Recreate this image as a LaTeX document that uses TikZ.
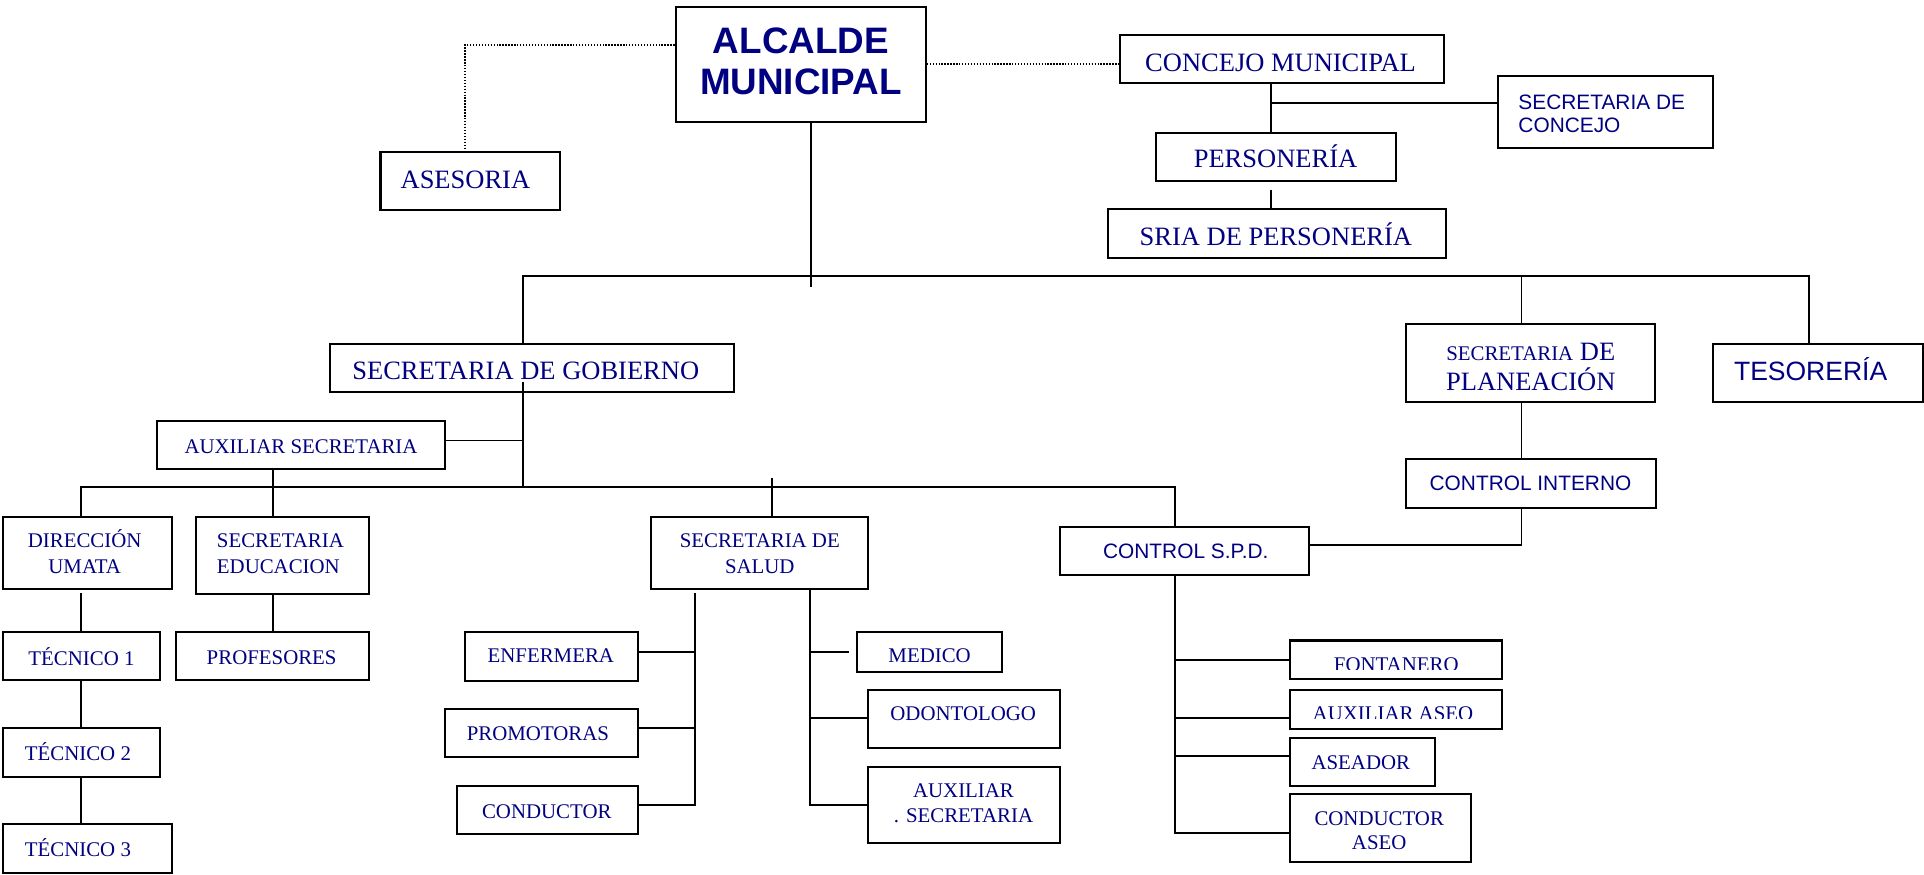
\documentclass[tikz,border=0pt]{standalone}
\usepackage{fontspec}
\setmainfont{Liberation Serif}
\newfontfamily\arialf{Liberation Sans}
\usetikzlibrary{fit}
\definecolor{navy}{RGB}{0,0,128}
\newcommand\mlc[1]{\begin{tabular}[t]{@{}c@{}}#1\end{tabular}}
\newcommand\mll[1]{\begin{tabular}[t]{@{}l@{}}#1\end{tabular}}
\tikzset{
 box/.style={draw, line width=1.7pt, inner sep=0pt},
 txt/.style={inner sep=0pt, text=navy, anchor=base, font=\fontsize{17}{21}\selectfont},
 big/.style={font=\fontsize{21.6}{25}\selectfont},
 ar/.style={font=\arialf\fontsize{17}{19}\selectfont},
 ln/.style={line width=1.45pt},
 dotl/.style={line width=1.1pt, dash pattern=on 1.1pt off 1.3pt},
}
\begin{document}
\begin{tikzpicture}[x=1pt,y=-1pt]
\fill[white] (0,0) rectangle (1568,713);
\useasboundingbox (0,0) rectangle (1568,713);

% boxes
\node[box, fit={(550.6,6) (754.4,99.7)}] (alc) {};
\node[box, fit={(310.1,123.6) (456.7,171.2)}] (ase) {};
\node[box, fit={(912.5,28.8) (1176.9,67.9)}] (con) {};
\node[box, fit={(1220.7,61.7) (1395.9,120.3)}] (scon) {};
\node[box, fit={(942,108.1) (1137.5,147.5)}] (per) {};
\node[box, fit={(903.2,170.3) (1178.1,210)}] (sria) {};
\node[box, fit={(269,280.4) (598,319.7)}] (gob) {};
\node[box, fit={(1145.5,264.3) (1349.1,327.4)}] (plan) {};
\node[box, fit={(1395.8,280.6) (1567.1,327.4)}] (tes) {};
\node[box, fit={(128.1,343.1) (363,382.5)}] (aux) {};
\node[box, fit={(1145.5,374.4) (1349.3,413.8)}] (ci) {};
\node[box, fit={(2.7,421.6) (140.2,480)}] (dir) {};
\node[box, fit={(159.5,421.6) (300.5,484.1)}] (edu) {};
\node[box, fit={(530.9,421.1) (707.3,480.3)}] (sal) {};
\node[box, fit={(863.5,429.2) (1067,468.6)}] (spd) {};
\node[box, fit={(2.7,515.3) (130.4,554.5)}] (t1) {};
\node[box, fit={(2.7,593.6) (130.4,633)}] (t2) {};
\node[box, fit={(2.7,671.8) (140.2,711.8)}] (t3) {};
\node[box, fit={(143.7,515.3) (300.5,554.2)}] (prof) {};
\node[box, fit={(378.6,515.3) (519.9,554.7)}] (enf) {};
\node[box, fit={(362.6,578.1) (519.9,617.2)}] (pro) {};
\node[box, fit={(372.2,640.6) (519.9,679.7)}] (cond) {};
\node[box, fit={(698.5,515.3) (816.8,547.4)}] (med) {};
\node[box, fit={(707.1,562.4) (864.1,609.3)}] (odo) {};
\node[box, fit={(707.1,624.8) (864.1,687.3)}] (axs) {};
\node[box, fit={(1051.3,522) (1224,553.5)}] (fon) {};
\node[box, fit={(1051.3,562.4) (1224,594.2)}] (axa) {};
\node[box, fit={(1051.3,601.2) (1169.3,640.6)}] (asd) {};
\node[box, fit={(1051.3,647.4) (1198.6,702.3)}] (cas) {};

% texts
\node[txt, font=\arialf\bfseries\fontsize{30}{33.9}\selectfont] (alc-t) at (652.7,43.5) {\mlc{ALCALDE\\MUNICIPAL}};
\node[txt,big] (ase-t) at (379.3,153.5) {ASESORIA};
\node[txt,big] (con-t) at (1043.6,58.4) {CONCEJO MUNICIPAL};
\node[txt, anchor=base west, font=\arialf\fontsize{17}{18}\selectfont] (scon-t) at (1237.3,89.6) {\mll{SECRETARIA DE\\CONCEJO}};
\node[txt,big] (per-t) at (1039.5,136.4) {PERSONERÍA};
\node[txt,big] (sria-t) at (1039.8,199.7) {SRIA DE PERSONERÍA};
\node[txt,big] (gob-t) at (428.5,308.9) {SECRETARIA DE GOBIERNO};
\node[txt,font=\fontsize{21.6}{25}\selectfont] (plan-t) at (1247.5,293.4) {\mlc{{\fontsize{17}{25}\selectfont SECRETARIA} DE\\\smash{PLANEACIÓN}}};
\node[txt, font=\arialf\fontsize{21.6}{25}\selectfont] (tes-t) at (1475.6,310.2) {TESORERÍA};
\node[txt] (aux-t) at (245.3,369.5) {AUXILIAR SECRETARIA};
\node[txt,ar] (ci-t) at (1247.3,399.9) {CONTROL INTERNO};
\node[txt] (dir-t) at (69,446.1) {\mlc{DIRECCIÓN\\UMATA}};
\node[txt, anchor=base west] (edu-t) at (176.6,446.1) {\mll{SECRETARIA\\EDUCACION}};
\node[txt] (sal-t) at (619.2,446.4) {\mlc{SECRETARIA DE\\SALUD}};
\node[txt,ar] (spd-t) at (966.4,455) {CONTROL S.P.D.};
\node[txt] (t1-t) at (66.4,542) {TÉCNICO 1};
\node[txt] (t2-t) at (63.5,619.4) {TÉCNICO 2};
\node[txt] (t3-t) at (63.5,697.6) {TÉCNICO 3};
\node[txt] (prof-t) at (221.4,541.2) {PROFESORES};
\node[txt] (enf-t) at (448.9,539.8) {ENFERMERA};
\node[txt] (pro-t) at (438.4,603.6) {PROMOTORAS};
\node[txt] (cond-t) at (445.6,666.9) {CONDUCTOR};
\node[txt] (med-t) at (757.6,539.8) {MEDICO};
\node[txt] (odo-t) at (785,587.3) {ODONTOLOGO};
\node[txt, font=\fontsize{17}{20.5}\selectfont] (axs-t) at (785.2,650) {\mlc{AUXILIAR\\. SECRETARIA}};
\node[txt] (asd-t) at (1109,627) {ASEADOR};
\node[txt, font=\fontsize{17}{19.3}\selectfont] (cas-t) at (1124,672.7) {\mlc{CONDUCTOR\\ASEO}};
\begin{scope}
\clip (1052,522.8) rectangle (1223,545.5);
\node[txt] (fon-t) at (1137.9,547.5) {FONTANERO};
\end{scope}
\begin{scope}
\clip (1052,563.2) rectangle (1223,585.8);
\node[txt] (axa-t) at (1135.2,587.5) {AUXILIAR ASEO};
\end{scope}

% connectors
\coordinate (d1) at (378.9,36.7);
\draw[dotl] (alc.west |- d1) -- (d1) -- (d1 |- ase.north);
\coordinate (d2) at (900,52.2);
\draw[dotl] (alc.east |- d2) -- (con.west |- d2);

\coordinate (bar) at (661,224.7);
\coordinate (a1) at (661,233.6);
\draw[line width=1.1pt] (alc.south -| a1) -- (a1);
\coordinate (gx) at (426,0);
\coordinate (px) at (1240,0);
\coordinate (tx) at (1474.3,0);
\draw[line width=1.8pt] (gob.north -| gx) -- (gx |- bar) -- (tx |- bar) -- (tes.north -| tx);
\draw[ln] (px |- bar) -- (plan.north -| px);

\coordinate (cx) at (1035.9,84.2);
\draw[ln] (con.south -| cx) -- (per.north -| cx);
\draw[ln] (cx) -- (scon.west |- cx);
\coordinate (p1) at (1035.9,154.8);
\draw[ln] (p1) -- (sria.north -| p1);

\coordinate (sb) at (0,397);
\coordinate (g0) at (426,311.6);
\draw[ln] (g0) -- (gx |- sb);
\coordinate (ay) at (0,358.9);
\draw[ln] (aux.east |- ay) -- (gx |- ay);
\coordinate (dx) at (65.7,0);
\coordinate (ex) at (222.2,0);
\coordinate (sx) at (957.8,0);
\draw[ln] (dir.north -| dx) -- (dx |- sb) -- (sx |- sb) -- (spd.north -| sx);
\draw[ln] (aux.south -| ex) -- (edu.north -| ex);
\coordinate (sd) at (629.1,389.8);
\draw[ln] (sd) -- (sal.north -| sd);

\coordinate (cy) at (0,444.2);
\draw[ln] (plan.south -| px) -- (ci.north -| px);
\draw[ln] (ci.south -| px) -- (px |- cy) -- (spd.east |- cy);

\coordinate (u1) at (65.7,483.6);
\draw[ln] (u1) -- (t1.north -| u1);
\draw[ln] (t1.south -| dx) -- (t2.north -| dx);
\draw[ln] (t2.south -| dx) -- (t3.north -| dx);
\draw[ln] (edu.south -| ex) -- (prof.north -| ex);

\coordinate (l0) at (566.5,483.6);
\coordinate (l1) at (566.5,531.1);
\coordinate (l2) at (566.5,593.6);
\coordinate (l3) at (566.5,656);
\draw[ln] (l0) -- (l3) -- (cond.east |- l3);
\draw[ln] (enf.east |- l1) -- (l1);
\draw[ln] (pro.east |- l2) -- (l2);

\coordinate (r1) at (660.2,531.1);
\coordinate (r2) at (660.2,584.9);
\coordinate (r3) at (660.2,656);
\coordinate (m1) at (691.8,531.1);
\draw[ln] (sal.south -| r1) -- (r3) -- (axs.west |- r3);
\draw[ln] (r1) -- (m1);
\draw[ln] (r2) -- (odo.west |- r2);

\coordinate (s1) at (957.8,537.6);
\coordinate (s2) at (957.8,585.2);
\coordinate (s3) at (957.8,616.4);
\coordinate (s4) at (957.8,678.6);
\draw[ln] (spd.south -| s1) -- (s4) -- (cas.west |- s4);
\draw[ln] (s1) -- (fon.west |- s1);
\draw[ln] (s2) -- (axa.west |- s2);
\draw[ln] (s3) -- (asd.west |- s3);
\end{tikzpicture}
\end{document}
